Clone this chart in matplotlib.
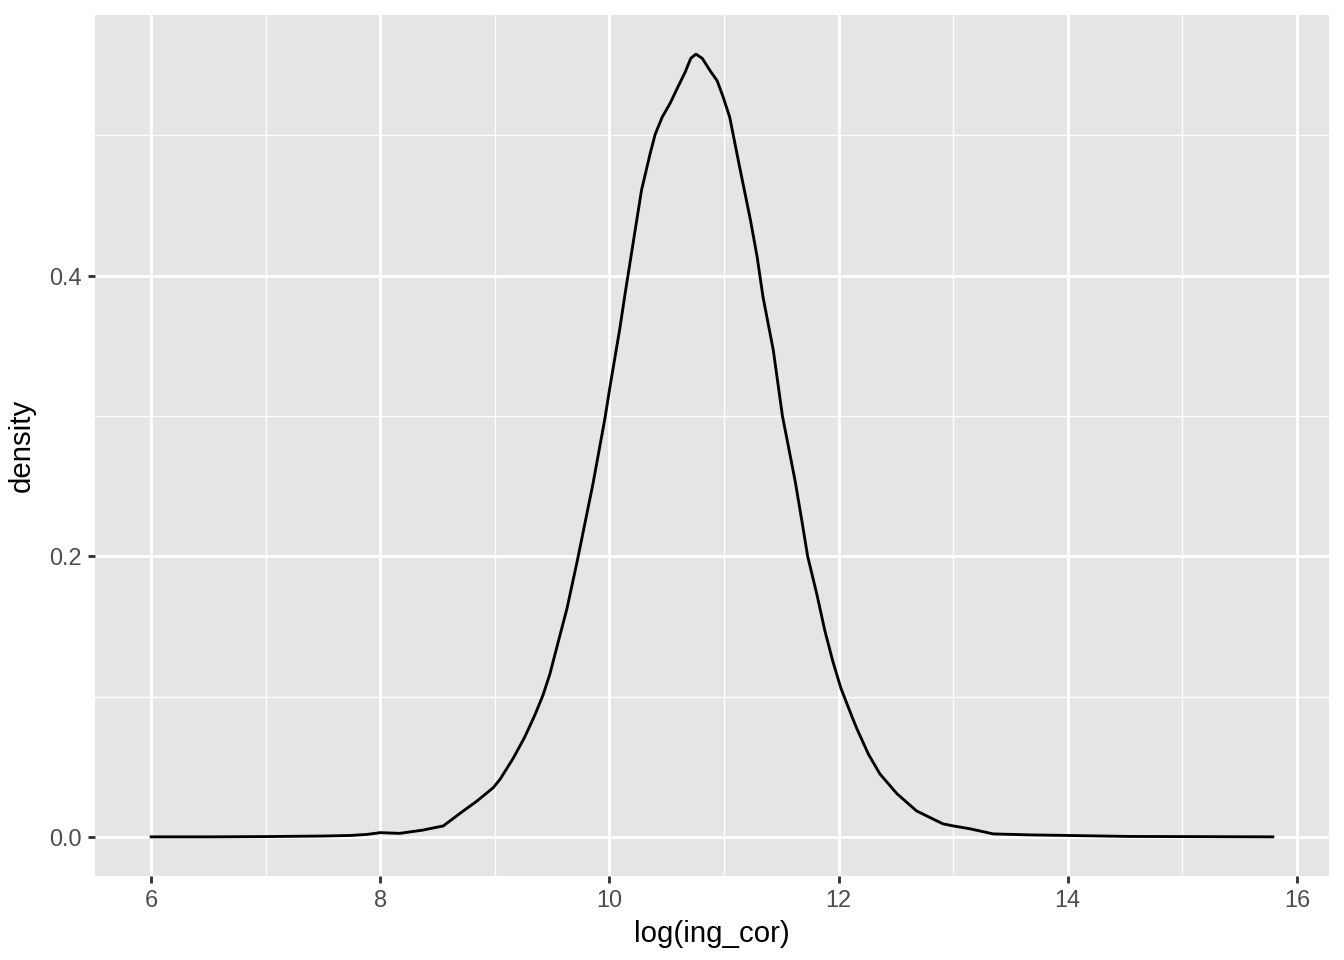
import matplotlib

matplotlib.use("Agg")
import matplotlib.pyplot as plt

# density curve (x = log(ing_cor))
log_ing = [6.0, 6.5, 7.0, 7.5, 7.74, 7.88, 8.0, 8.17, 8.37, 8.55, 8.70, 8.845,
           8.985, 9.045, 9.16, 9.26, 9.35, 9.42, 9.48, 9.55, 9.63, 9.72, 9.857,
           9.96, 10.005, 10.09, 10.14, 10.21, 10.28, 10.355, 10.40, 10.46, 10.53,
           10.60, 10.66, 10.71, 10.755, 10.81, 10.88, 10.94, 10.99, 11.05, 11.13,
           11.23, 11.29, 11.34, 11.43, 11.51, 11.62, 11.68, 11.73, 11.81, 11.88,
           11.95, 12.02, 12.12, 12.16, 12.26, 12.36, 12.51, 12.68, 12.91, 13.0,
           13.15, 13.35, 13.67, 14.0, 14.54, 15.0, 15.79]
density = [0.0, 0.0, 0.0002, 0.0006, 0.001, 0.0017, 0.003, 0.0025, 0.0048, 0.0078,
           0.017, 0.0256, 0.035, 0.041, 0.056, 0.071, 0.087, 0.101, 0.116, 0.138,
           0.163, 0.197, 0.252, 0.298, 0.321, 0.362, 0.389, 0.425, 0.461, 0.487,
           0.501, 0.513, 0.523, 0.535, 0.545, 0.555, 0.558, 0.555, 0.546, 0.539,
           0.528, 0.513, 0.480, 0.440, 0.413, 0.385, 0.347, 0.300, 0.254, 0.225,
           0.200, 0.173, 0.147, 0.125, 0.106, 0.085, 0.077, 0.059, 0.0449, 0.0307,
           0.0185, 0.0093, 0.0078, 0.0057, 0.0021, 0.0014, 0.001, 0.0003, 0.0002, 0.0]

x_ticks = [6, 8, 10, 12, 14, 16]
y_ticks = [0.0, 0.2, 0.4]

plt.rcParams["font.family"] = ["Liberation Sans", "DejaVu Sans"]

fig = plt.figure(figsize=(7, 5), dpi=192)
ax = fig.add_axes([0.0707, 0.0875, 0.9181, 0.8969])
ax.set_facecolor("#E5E5E5")

ax.plot(log_ing, density, color="black", linewidth=1.07, solid_joinstyle="round", zorder=3)

# ggplot-style 5% expansion
x_lo, x_hi = min(log_ing), max(log_ing)
y_lo, y_hi = min(density), max(density)
dx, dy = (x_hi - x_lo) * 0.05, (y_hi - y_lo) * 0.05
ax.set_xlim(x_lo - dx, x_hi + dx)
ax.set_ylim(y_lo - dy, y_hi + dy)

ax.set_xticks(x_ticks)
ax.set_yticks(y_ticks)
ax.set_xticklabels([str(t) for t in x_ticks])
ax.set_yticklabels([f"{t:.1f}" for t in y_ticks])
ax.set_xticks([7, 9, 11, 13, 15], minor=True)
ax.set_yticks([0.1, 0.3, 0.5], minor=True)

ax.grid(which="major", color="white", linewidth=1.07)
ax.grid(which="minor", color="white", linewidth=0.53)
ax.set_axisbelow(True)
for s in ax.spines.values():
    s.set_visible(False)

ax.tick_params(which="major", length=2.75, width=1.07, color="#333333",
               labelcolor="#4D4D4D", labelsize=8.8, pad=2.2)
ax.tick_params(which="minor", length=0)

ax.set_xlabel("log(ing_cor)", fontsize=11, color="black", labelpad=3)
ax.set_ylabel("density", fontsize=11, color="black", labelpad=5)

fig.savefig("out.png", dpi=192)
